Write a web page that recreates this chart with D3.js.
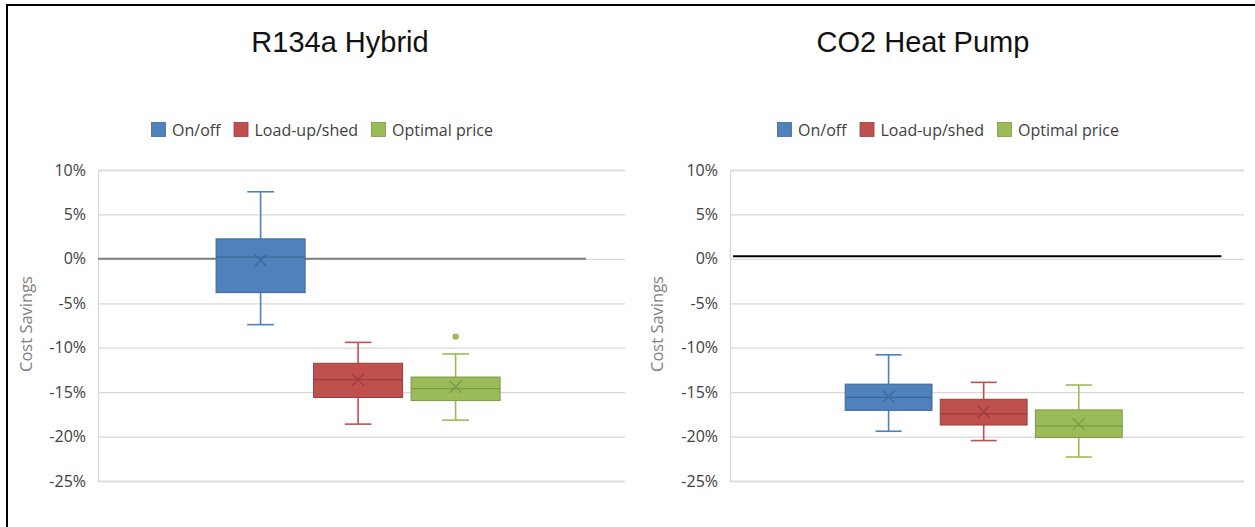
<!DOCTYPE html>
<html>
<head>
<meta charset="utf-8">
<script src="https://cdn.jsdelivr.net/npm/d3@7"></script>
<style>
  body { margin: 0; background: #fff; }
  svg { display: block; }
</style>
</head>
<body>
<div id="chart"></div>
<script>
// series names + colours
const seriesNames = ['On/off', 'Load-up/shed', 'Optimal price'];
const seriesFill = ['#4f81bd', '#c0504d', '#9bbb59'];
const seriesDark = ['#3d6797', '#9a3e3c', '#7c9847'];

// y ticks (percent)
const yTicks = [10, 5, 0, -5, -10, -15, -20, -25];

// R134a Hybrid box stats (percent): [whiskerLow, q1, median, q3, whiskerHigh, mean]
const r134aStats = [
  [-7.4, -3.8, 0.2, 2.25, 7.55, -0.15],
  [-18.6, -15.6, -13.6, -11.75, -9.4, -13.6],
  [-18.15, -15.95, -14.6, -13.3, -10.7, -14.4]
];
const r134aOutliers = [[], [], [-8.75]];

// CO2 Heat Pump box stats (percent)
const co2Stats = [
  [-19.4, -17.05, -15.6, -14.1, -10.8, -15.5],
  [-20.45, -18.7, -17.45, -15.8, -13.9, -17.2],
  [-22.3, -20.1, -18.8, -17.0, -14.2, -18.6]
];
const co2Outliers = [[], [], []];

// reference line drawn across each panel (percent)
const r134aRefLine = 0;
const co2RefLine = 0.3;

const W = 1255, H = 527;
const svg = d3.select('#chart').append('svg')
  .attr('width', W)
  .attr('height', H);

// frame lines (top and left)
svg.append('line').attr('x1', 7).attr('x2', W).attr('y1', 5).attr('y2', 5)
  .attr('stroke', '#000').attr('stroke-width', 2);
svg.append('line').attr('x1', 7).attr('x2', 7).attr('y1', 4).attr('y2', H)
  .attr('stroke', '#000').attr('stroke-width', 2);

const labelFont = '"Open Sans", "Noto Sans", sans-serif';

function drawPanel(cfg) {
  const g = svg.append('g');

  // title
  g.append('text')
    .attr('x', cfg.titleX).attr('y', 52)
    .attr('text-anchor', 'middle')
    .style('font-family', '"Liberation Sans", Arial, sans-serif')
    .style('font-size', '29px')
    .attr('fill', '#111')
    .text(cfg.title);

  // legend
  let lx = cfg.legendX;
  seriesNames.forEach((name, i) => {
    g.append('rect')
      .attr('x', lx + 0.5).attr('y', 122.5)
      .attr('width', 14).attr('height', 14)
      .attr('fill', seriesFill[i])
      .attr('stroke', seriesDark[i]).attr('stroke-width', 0.8);
    const t = g.append('text')
      .attr('x', lx + 21).attr('y', 135.5)
      .style('font-family', labelFont)
      .style('font-size', '16px')
      .attr('fill', '#404040')
      .text(name);
    lx += 21 + t.node().getComputedTextLength() + 13;
  });

  const y = d3.scaleLinear()
    .domain([-25, 10])
    .range([481, 170]);

  const x = d3.scaleBand()
    .domain(seriesNames)
    .range([cfg.left, cfg.right])
    .paddingInner(0.087)
    .paddingOuter(1.246)
    .align(0.486);

  // gridlines
  const yAxis = g.append('g')
    .attr('transform', `translate(${cfg.left},0)`)
    .call(d3.axisLeft(y)
      .tickValues(yTicks)
      .tickSize(-(cfg.right - cfg.left))
      .tickPadding(12)
      .tickFormat(d => d + '%'));
  yAxis.select('.domain').attr('stroke', '#d9d9d9').attr('stroke-width', 1.3);
  yAxis.selectAll('.tick line').attr('stroke', '#d9d9d9').attr('stroke-width', 1.3);
  yAxis.selectAll('.tick text')
    .style('font-family', labelFont)
    .style('font-size', '16px')
    .attr('fill', '#404040');

  // axis title
  g.append('text')
    .attr('transform', `translate(${cfg.axisTitleX},324) rotate(-90)`)
    .attr('text-anchor', 'middle')
    .style('font-family', labelFont)
    .style('font-size', '16.5px')
    .attr('fill', '#808080')
    .text('Cost Savings');

  // reference line
  const plotW = cfg.right - cfg.left;
  g.append('line')
    .attr('x1', cfg.left + plotW * cfg.refFrom)
    .attr('x2', cfg.left + plotW * cfg.refTo)
    .attr('y1', y(cfg.refValue)).attr('y2', y(cfg.refValue))
    .attr('stroke', cfg.refColor).attr('stroke-width', 2);

  // boxes
  const boxes = g.selectAll('g.box')
    .data(cfg.stats.map((s, i) => ({ name: seriesNames[i], i: i, s: s, out: cfg.outliers[i] })))
    .join('g').attr('class', 'box');

  boxes.each(function(d) {
    const b = d3.select(this);
    const x0 = x(d.name), bw = x.bandwidth(), cx = x0 + bw / 2;
    const cap = bw * 0.3;
    const [lo, q1, med, q3, hi, mean] = d.s;
    const fill = seriesFill[d.i], dark = seriesDark[d.i];

    // whiskers
    b.append('line').attr('x1', cx).attr('x2', cx).attr('y1', y(hi)).attr('y2', y(q3))
      .attr('stroke', fill).attr('stroke-width', 1.6);
    b.append('line').attr('x1', cx).attr('x2', cx).attr('y1', y(q1)).attr('y2', y(lo))
      .attr('stroke', fill).attr('stroke-width', 1.6);
    b.append('line').attr('x1', cx - cap / 2).attr('x2', cx + cap / 2).attr('y1', y(hi)).attr('y2', y(hi))
      .attr('stroke', fill).attr('stroke-width', 1.6);
    b.append('line').attr('x1', cx - cap / 2).attr('x2', cx + cap / 2).attr('y1', y(lo)).attr('y2', y(lo))
      .attr('stroke', fill).attr('stroke-width', 1.6);

    // box
    b.append('rect')
      .attr('x', x0).attr('y', y(q3))
      .attr('width', bw).attr('height', y(q1) - y(q3))
      .attr('fill', fill)
      .attr('stroke', dark).attr('stroke-width', 1);

    // median
    b.append('line').attr('x1', x0).attr('x2', x0 + bw).attr('y1', y(med)).attr('y2', y(med))
      .attr('stroke', dark).attr('stroke-width', 1.3);

    // mean marker (x)
    const m = 6, my = y(mean);
    b.append('path')
      .attr('d', `M${cx - m},${my - m}L${cx + m},${my + m}M${cx - m},${my + m}L${cx + m},${my - m}`)
      .attr('stroke', dark).attr('stroke-width', 1.3).attr('fill', 'none');

    // outliers
    b.selectAll('circle').data(d.out).join('circle')
      .attr('cx', cx).attr('cy', v => y(v)).attr('r', 3.2)
      .attr('fill', fill);
  });
}

drawPanel({
  title: 'R134a Hybrid', titleX: 340, legendX: 151,
  left: 98, right: 625, axisTitleX: 32,
  stats: r134aStats, outliers: r134aOutliers,
  refValue: r134aRefLine, refColor: '#7f7f7f', refFrom: 0, refTo: 0.926
});

drawPanel({
  title: 'CO2 Heat Pump', titleX: 923, legendX: 777,
  left: 730, right: 1244, axisTitleX: 663,
  stats: co2Stats, outliers: co2Outliers,
  refValue: co2RefLine, refColor: '#000', refFrom: 0.006, refTo: 0.956
});
</script>
</body>
</html>
